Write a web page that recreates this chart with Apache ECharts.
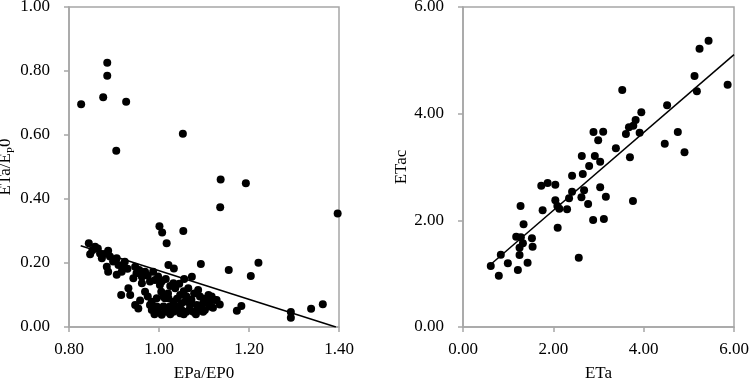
<!DOCTYPE html>
<html>
<head>
<meta charset="utf-8">
<script src="https://cdn.jsdelivr.net/npm/echarts@6/dist/echarts.min.js"></script>
<style>
  html, body { margin: 0; padding: 0; background: #fff; }
  #chart { width: 749px; height: 382px; }
</style>
</head>
<body>
<div id="chart"></div>
<script>
// left panel: ETa/EP0 vs EPa/EP0
var ratioPoints = [
  [0.827, 0.696], [0.885, 0.826], [0.885, 0.785], [0.876, 0.718], [0.927, 0.704],
  [0.905, 0.551], [1.053, 0.604], [1.137, 0.461], [1.193, 0.449], [1.136, 0.374],
  [1.397, 0.355], [1.001, 0.315], [1.007, 0.295], [1.054, 0.300], [1.017, 0.262],
  [1.021, 0.194], [1.033, 0.183], [1.093, 0.197], [1.155, 0.178], [1.204, 0.159],
  [1.221, 0.201], [1.173, 0.051], [1.183, 0.066], [1.293, 0.047], [1.293, 0.029],
  [1.338, 0.057], [1.364, 0.071], [0.916, 0.100], [1.056, 0.150], [1.073, 0.157],
  [0.844, 0.262], [0.858, 0.251], [0.847, 0.227], [0.869, 0.230], [0.873, 0.215],
  [0.887, 0.238], [0.891, 0.220], [0.884, 0.188], [0.887, 0.173], [0.906, 0.215],
  [0.910, 0.194], [0.924, 0.204], [0.906, 0.163], [0.917, 0.173], [0.947, 0.188],
  [0.950, 0.168], [0.962, 0.157], [0.943, 0.152], [0.969, 0.173], [0.987, 0.173],
  [0.991, 0.147], [0.980, 0.142], [1.006, 0.142], [0.932, 0.121], [0.936, 0.100],
  [0.969, 0.110], [0.947, 0.069], [0.954, 0.058], [0.984, 0.079], [0.995, 0.090],
  [0.984, 0.053], [0.998, 0.048], [1.013, 0.090], [1.013, 0.058], [1.002, 0.131],
  [1.032, 0.137], [1.036, 0.121], [1.065, 0.121], [1.087, 0.116], [1.091, 0.095],
  [1.110, 0.100], [1.128, 0.084], [1.113, 0.074], [1.061, 0.095], [1.047, 0.100],
  [1.050, 0.074], [1.069, 0.069], [1.087, 0.053], [1.102, 0.053], [1.084, 0.069],
  [1.010, 0.095], [1.021, 0.090], [1.032, 0.079], [0.980, 0.069], [0.995, 0.064],
  [1.010, 0.064], [1.024, 0.064], [1.039, 0.064], [1.050, 0.053], [1.017, 0.048],
  [1.032, 0.048], [1.047, 0.043], [1.061, 0.048], [1.076, 0.048], [0.962, 0.137],
  [1.098, 0.074], [1.110, 0.079], [1.117, 0.095], [1.124, 0.084], [1.113, 0.064],
  [1.098, 0.048], [0.852, 0.240], [0.864, 0.245], [0.878, 0.228], [0.898, 0.205],
  [0.919, 0.190], [0.930, 0.182], [0.956, 0.178], [0.975, 0.160], [0.998, 0.158],
  [1.015, 0.150], [1.025, 0.128], [1.045, 0.135], [1.055, 0.112], [1.078, 0.105],
  [1.100, 0.088], [1.005, 0.110], [1.020, 0.105], [1.040, 0.088], [1.058, 0.080],
  [1.072, 0.085], [0.990, 0.040], [1.006, 0.038], [1.025, 0.040], [1.040, 0.052],
  [1.055, 0.040], [1.068, 0.055], [1.082, 0.040], [1.093, 0.062], [1.028, 0.055],
  [1.120, 0.060], [1.135, 0.070], [0.975, 0.095], [0.958, 0.083]
];
var ratioTrend = [[0.826, 0.254], [1.393, 0.0]];

// right panel: ETac vs ETa
var etPoints = [
  [0.615, 1.144], [0.793, 0.962], [0.837, 1.356], [0.993, 1.194], [1.215, 1.069],
  [1.252, 1.350], [1.252, 1.488], [1.178, 1.694], [1.281, 1.681], [1.326, 1.569],
  [1.341, 1.925], [1.274, 2.269], [1.430, 1.206], [1.526, 1.663], [1.541, 1.506],
  [1.763, 2.188], [1.733, 2.650], [1.874, 2.700], [2.044, 2.669], [2.044, 2.375],
  [2.089, 2.269], [2.133, 2.219], [2.096, 1.863], [2.304, 2.206], [2.348, 2.413],
  [2.415, 2.538], [2.415, 2.838], [2.563, 1.300], [2.622, 2.431], [2.681, 2.563],
  [2.652, 2.869], [2.630, 3.206], [2.770, 2.306], [2.793, 3.019], [2.881, 2.006],
  [2.889, 3.656], [2.993, 3.500], [2.919, 3.206], [3.037, 3.100], [3.037, 2.619],
  [3.104, 3.663], [3.163, 2.444], [3.119, 2.025], [3.763, 2.363], [3.385, 3.350],
  [3.526, 4.444], [3.696, 3.181], [3.607, 3.619], [3.674, 3.744], [3.770, 3.775],
  [3.822, 3.881], [3.948, 4.025], [3.911, 3.644], [4.519, 4.156], [4.467, 3.438],
  [4.756, 3.656], [4.904, 3.275], [5.126, 4.706], [5.178, 4.419], [5.237, 5.219],
  [5.437, 5.369], [5.859, 4.544]
];
var etTrend = [[0.63, 1.186], [6.0, 5.106]];

var ratioTicks = [0.8, 0.2, 1.4];
var etTicks = [0, 2, 6];

var font = '"Liberation Serif", "Times New Roman", Times, serif';
var axisGray = "#a6a6a6";

function axisStyle(extra, labelMargin) {
  var a = {
    axisLine: { show: true, onZero: false, lineStyle: { color: axisGray, width: 1.5 } },
    axisTick: { show: true, inside: false, length: 5, lineStyle: { color: axisGray, width: 1.5 } },
    splitLine: { show: false },
    axisLabel: {
      color: "#000",
      fontFamily: font,
      fontSize: 17,
      margin: labelMargin,
      formatter: function(v) { return v.toFixed(2); }
    },
    nameLocation: "middle",
    nameTextStyle: { color: "#000", fontFamily: font, fontSize: 17 }
  };
  for (var k in extra) a[k] = extra[k];
  return a;
}

var myChart = echarts.init(document.getElementById("chart"));
var option = {
  animation: false,
  grid: [
    { left: 69, right: 410, top: 7, bottom: 55, show: true, borderColor: axisGray, borderWidth: 1.5,
      containLabel: false, outerBoundsMode: "none" },
    { left: 463, right: 15, top: 7, bottom: 55, show: true, borderColor: axisGray, borderWidth: 1.5,
      containLabel: false, outerBoundsMode: "none" }
  ],
  xAxis: [
    axisStyle({ type: "value", gridIndex: 0, min: ratioTicks[0], interval: ratioTicks[1], max: ratioTicks[2],
      name: "EPa/EP0", nameGap: 38 }, 14),
    axisStyle({ type: "value", gridIndex: 1, min: etTicks[0], interval: etTicks[1], max: etTicks[2],
      name: "ETa", nameGap: 38 }, 14)
  ],
  yAxis: [
    axisStyle({ type: "value", gridIndex: 0, min: 0, interval: 0.2, max: 1,
      name: "{a|ETa/E}{s|P}{a|0}", nameGap: 48,
      nameTextStyle: {
        color: "#000", fontFamily: font, fontSize: 17,
        rich: {
          a: { fontFamily: font, fontSize: 17, color: "#000", lineHeight: 22 },
          s: { fontFamily: font, fontSize: 11, color: "#000", verticalAlign: "bottom", lineHeight: 22 }
        }
      } }, 19),
    axisStyle({ type: "value", gridIndex: 1, min: 0, interval: 2, max: 6,
      name: "ETac", nameGap: 45 }, 19)
  ],
  series: [
    {
      type: "scatter", xAxisIndex: 0, yAxisIndex: 0, data: ratioPoints,
      symbolSize: 8, itemStyle: { color: "#000", opacity: 1 }
    },
    {
      type: "line", xAxisIndex: 0, yAxisIndex: 0, data: ratioTrend,
      symbol: "none", lineStyle: { color: "#000", width: 1.5 }
    },
    {
      type: "scatter", xAxisIndex: 1, yAxisIndex: 1, data: etPoints,
      symbolSize: 8, itemStyle: { color: "#000", opacity: 1 }
    },
    {
      type: "line", xAxisIndex: 1, yAxisIndex: 1, data: etTrend,
      symbol: "none", lineStyle: { color: "#000", width: 1.5 }
    }
  ]
};
myChart.setOption(option);
</script>
</body>
</html>
